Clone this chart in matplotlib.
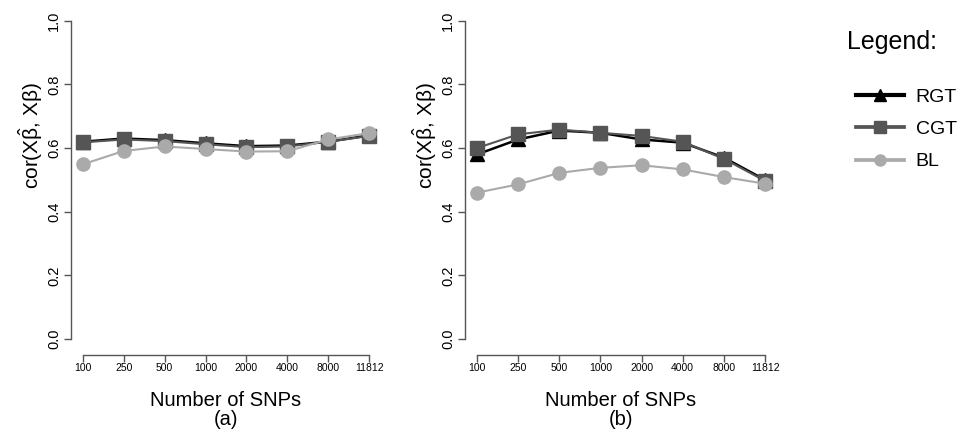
import matplotlib
matplotlib.use("Agg")
import matplotlib.pyplot as plt
from matplotlib.lines import Line2D

plt.rcParams["font.family"] = ["Liberation Sans", "DejaVu Sans"]
plt.rcParams["mathtext.fontset"] = "custom"
plt.rcParams["mathtext.rm"] = "Liberation Sans"
plt.rcParams["mathtext.it"] = "Liberation Sans"

# Data
snps = ["100", "250", "500", "1000", "2000", "4000", "8000", "11812"]

rgt_a = [0.620, 0.630, 0.625, 0.615, 0.606, 0.608, 0.620, 0.640]
cgt_a = [0.618, 0.627, 0.622, 0.612, 0.603, 0.605, 0.620, 0.638]
bl_a = [0.549, 0.591, 0.605, 0.597, 0.589, 0.590, 0.627, 0.647]

rgt_b = [0.580, 0.627, 0.655, 0.648, 0.627, 0.617, 0.570, 0.500]
cgt_b = [0.600, 0.643, 0.658, 0.648, 0.638, 0.620, 0.566, 0.497]
bl_b = [0.460, 0.486, 0.522, 0.538, 0.546, 0.533, 0.509, 0.488]

methods = ["RGT", "CGT", "BL"]
colors = ["black", "#555555", "#aaaaaa"]
markers = ["^", "s", "o"]
line_w = [1.8, 1.5, 1.5]

W, H = 971, 437
fig = plt.figure(figsize=(W / 100, H / 100), dpi=100)


def panel(left_px, right_px, series, tag):
    ax = fig.add_axes([left_px / W, 1 - 355 / H, (right_px - left_px) / W, (355 - 8) / H])
    x = range(len(snps))
    for vals, c, m, lw in zip(series, colors, markers, line_w):
        ax.plot(x, vals, color=c, marker=m, markersize=9.5, linewidth=lw,
                markeredgecolor=c)
    ax.set_xlim(-0.29, 7.29)
    ax.set_ylim(-0.05, 1.04)
    for s in ["top", "right"]:
        ax.spines[s].set_visible(False)
    ax.spines["left"].set_bounds(0, 1)
    ax.spines["bottom"].set_bounds(0, 7)
    for s in ["left", "bottom"]:
        ax.spines[s].set_color("#555555")
        ax.spines[s].set_linewidth(1.0)
    ax.set_xticks(list(x))
    ax.set_xticklabels(snps, fontsize=7.5)
    ax.set_yticks([0, 0.2, 0.4, 0.6, 0.8, 1.0])
    ax.set_yticklabels(["0.0", "0.2", "0.4", "0.6", "0.8", "1.0"], fontsize=10.5,
                       rotation=90, va="center")
    ax.tick_params(color="#555555", length=5, width=1.0)
    ax.tick_params(axis="x", pad=1)
    ax.tick_params(axis="y", pad=2)
    ax.set_xlabel("Number of SNPs\n" + tag, fontsize=14.5, labelpad=13, linespacing=0.95)
    ax.set_ylabel(r"cor(X$\hat{\mathrm{\beta}}$, X$\mathrm{\beta}$)", fontsize=15)
    ax.yaxis.set_label_coords(-26 / (right_px - left_px), 0.634)
    return ax


panel(71, 381, [rgt_a, cgt_a, bl_a], "(a)")
panel(465, 777, [rgt_b, cgt_b, bl_b], "(b)")

fig.text(847 / W, 1 - 42 / H, "Legend:", fontsize=18, va="center", ha="left")
handles = [Line2D([], [], color=c, marker=m, markersize=8, linewidth=lw + 1.2)
           for c, m, lw in zip(colors, markers, line_w)]
fig.legend(handles, methods, loc="upper left", bbox_to_anchor=(838 / W, 1 - 71 / H),
           frameon=False, fontsize=14, handlelength=2.5, labelspacing=0.75,
           handletextpad=0.6)

fig.savefig("out.png", dpi=100)
